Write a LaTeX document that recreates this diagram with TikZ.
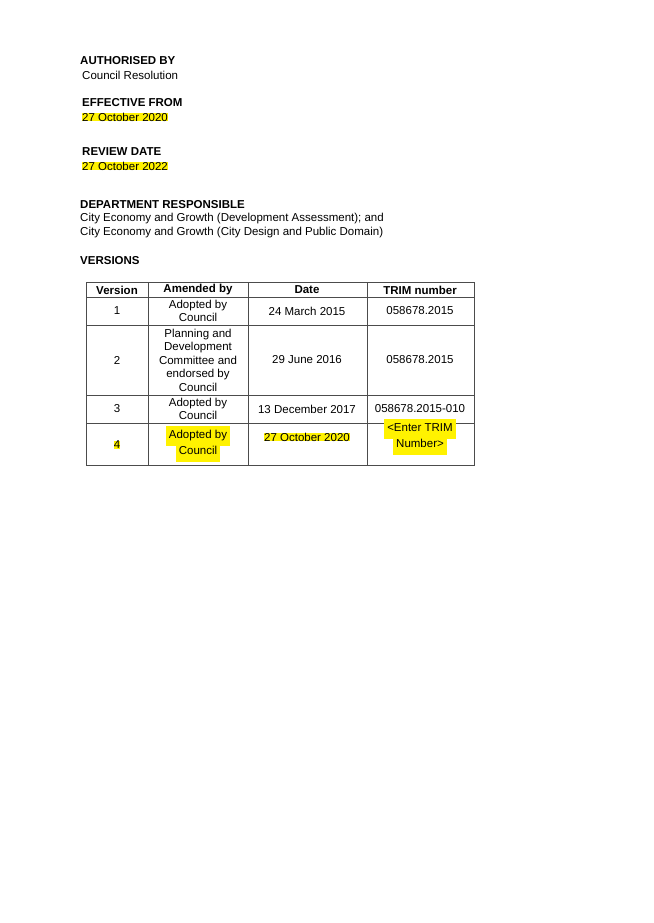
\documentclass[tikz,border=0pt]{standalone}
\usepackage{fontspec}
\setmainfont{Liberation Sans}
\begin{document}
\begin{tikzpicture}[x=1pt,y=-1pt,
  t/.style={anchor=west,inner sep=0pt,font=\fontsize{11.5}{13.5}\selectfont},
  b/.style={t,font=\fontsize{11.5}{13.5}\selectfont\bfseries},
  hl/.style={fill=yellow},
  c/.style={inner sep=0pt,align=center,font=\fontsize{11.5}{13.5}\selectfont},
  hd/.style={c,font=\fontsize{11.5}{13.5}\selectfont\bfseries},
  grid/.style={draw=black!70,line width=0.7pt}]
\useasboundingbox (0,0) rectangle (653,923);
\node[b] (a1) at (80,61) {AUTHORISED BY};
\node[t] (a2) at (82,75) {Council Resolution};
\node[b] (e1) at (82,103) {EFFECTIVE FROM};
\node[t,hl] (e2) at (82,117) {27 October 2020};
\node[b] (r1) at (82,152) {REVIEW DATE};
\node[t,hl] (r2) at (82,166) {27 October 2022};
\node[b] (d1) at (80,205) {DEPARTMENT RESPONSIBLE};
\node[t] (d2) at (80,219) {City Economy and Growth (Development Assessment); and};
\node[t] (d3) at (80,233) {City Economy and Growth (City Design and Public Domain)};
\node[b] (v1) at (80,261) {VERSIONS};
% table
\draw[grid] (86,282) rectangle (474,465);
\foreach \y in {297,325,395,423} \draw[grid] (86,\y) -- (474,\y);
\foreach \x in {148,248,367} \draw[grid] (\x,282) -- (\x,465);
\node[hd] (h1) at (117,290) {Version};
\node[hd] (h2) at (198,290) {Amended by};
\node[hd] (h3) at (307,290) {Date};
\node[hd] (h4) at (420,290) {TRIM number};
\node[c] (c11) at (117,311) {1};
\node[c] (c12) at (198,311) {Adopted by\\Council};
\node[c] (c13) at (307,311) {24 March 2015};
\node[c] (c14) at (420,311) {058678.2015};
\node[c] (c21) at (117,360) {2};
\node[c] (c22) at (198,360) {Planning and\\Development\\Committee and\\endorsed by\\Council};
\node[c] (c23) at (307,360) {29 June 2016};
\node[c] (c24) at (420,360) {058678.2015};
\node[c] (c31) at (117,409) {3};
\node[c] (c32) at (198,409) {Adopted by\\Council};
\node[c] (c33) at (307,409) {13 December 2017};
\node[c] (c34) at (420,409) {058678.2015-010};
\node[c,hl] (c41) at (117,445) {4};
\node[c] (c42) at (198,444) {\colorbox{yellow}{\strut Adopted by}\\[-4.5pt]\colorbox{yellow}{\strut Council}};
\node[c,hl] (c43) at (307,437) {27 October 2020};
\node[c] (c44) at (420,437) {\colorbox{yellow}{\strut <Enter TRIM}\\[-4.5pt]\colorbox{yellow}{\strut Number>}};
\end{tikzpicture}
\end{document}
